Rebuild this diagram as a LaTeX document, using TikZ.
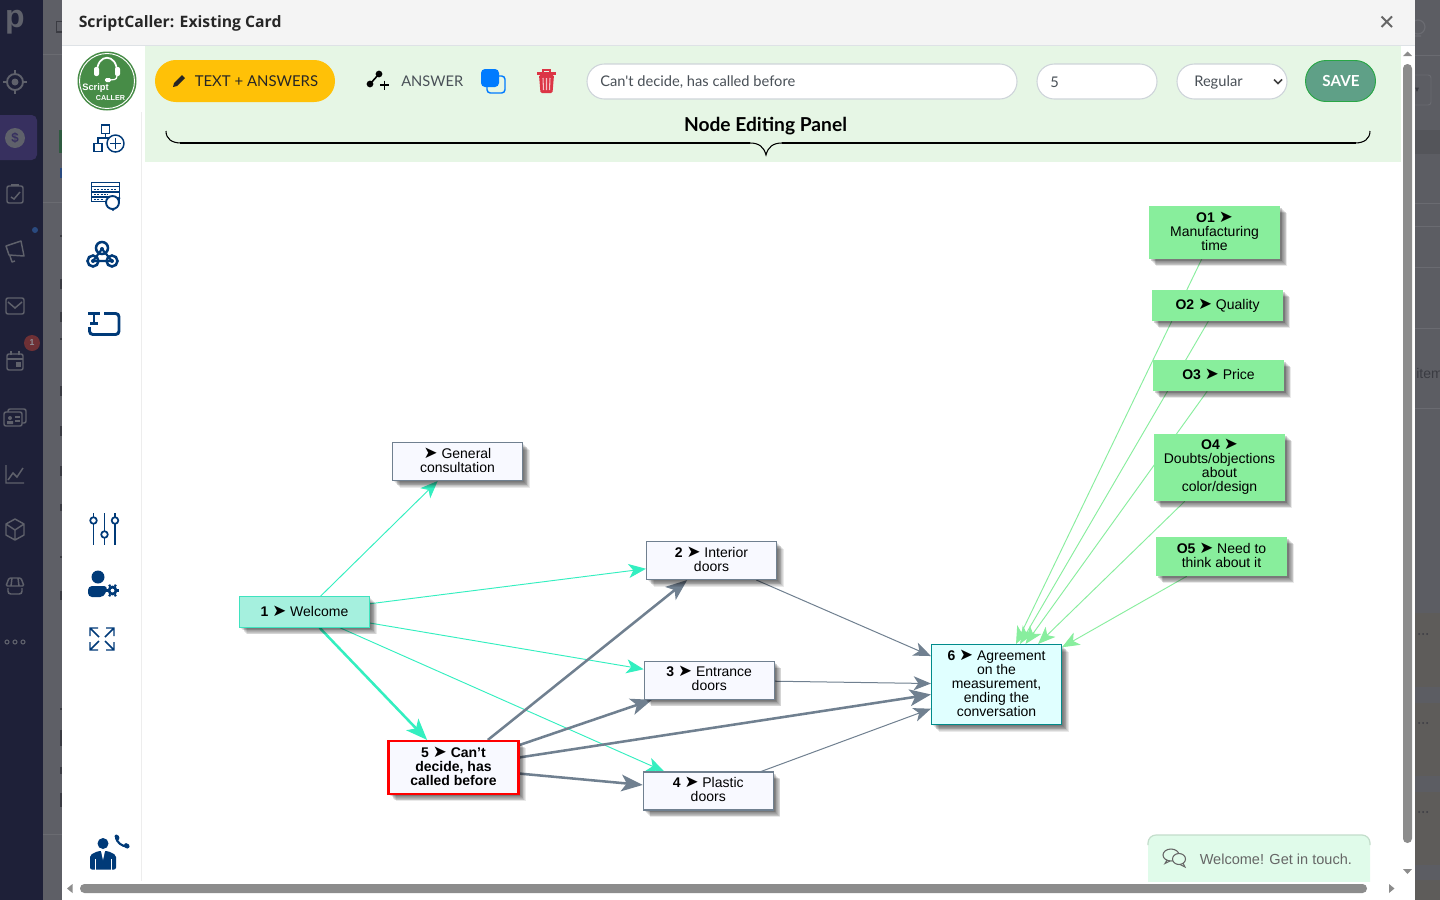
\documentclass[tikz,border=0pt]{standalone}
\usepackage{fontspec}
\setmainfont{Liberation Sans}
\newfontfamily\uif{Lato}
\newfontfamily\titlef{Open Sans}
\newfontfamily\symf{DejaVu Sans}
\usetikzlibrary{arrows.meta}
\pgfdeclarelayer{chrome}
\pgfdeclarelayer{edges}
\pgfsetlayers{chrome,edges,main}
\definecolor{side}{HTML}{1E2038}
\definecolor{selbar}{HTML}{37305F}
\definecolor{dimbg}{HTML}{5E5F66}
\definecolor{dimright}{HTML}{5C5D63}
\definecolor{dimbrown}{HTML}{5E5C5A}
\definecolor{dimband}{HTML}{54555A}
\definecolor{dimline}{HTML}{6A6B71}
\definecolor{dimdark}{HTML}{3A3B42}
\definecolor{dimgreen}{HTML}{2F5A40}
\definecolor{dimblue}{HTML}{2A4A7F}
\definecolor{sideicon}{HTML}{5F616B}
\definecolor{iconblue}{HTML}{003A78}
\definecolor{panelgreen}{HTML}{E6F6E5}
\definecolor{tealedge}{HTML}{33EFC0}
\definecolor{slateedge}{HTML}{708090}
\definecolor{greenedge}{HTML}{88EE9E}
\definecolor{ghost}{HTML}{F8F9FF}
\definecolor{mint}{HTML}{A5F0DE}
\definecolor{mintb}{HTML}{3FE3BF}
\definecolor{cyanf}{HTML}{E0FFFF}
\definecolor{cyanb}{HTML}{008B8B}
\definecolor{ogreen}{HTML}{88EE9C}
\definecolor{uitext}{HTML}{495057}
\definecolor{field}{HTML}{CED4DA}
\definecolor{thumb}{HTML}{8C8C8C}
\definecolor{logogreen}{HTML}{478C47}
\definecolor{amber}{HTML}{FFC107}
\definecolor{savefill}{HTML}{5FA087}
\definecolor{saveline}{HTML}{28A745}
\definecolor{copyblue}{HTML}{007BFF}
\definecolor{trashred}{HTML}{DC3545}
\definecolor{chatfill}{HTML}{E0FBEA}
\definecolor{chatline}{HTML}{C3DDCB}
\definecolor{headbg}{HTML}{F4F4F4}
\definecolor{headline}{HTML}{DEE2E6}
\definecolor{badgered}{HTML}{6E3035}
\def\arr{\smash{\symf\fontsize{12.5}{10.5}\selectfont ➤}}
\def\lst{\rule[-2pt]{0pt}{10pt}}
\tikzset{
  x=0.75pt,y=-0.75pt,
  boxsize/.style 2 args={minimum width=#1*0.75pt,minimum height=#2*0.75pt},
  softstep/.style={preaction={fill=black,fill opacity=0.085,draw=none,transform canvas={shift={(#1pt,-#1pt)}}}},
  softshadow/.style={softstep=5.4,softstep=4.8,softstep=4.2,softstep=3.6,softstep=3.0,softstep=2.4,softstep=1.8,softstep=1.2},
  flow/.style={rectangle,inner sep=0pt,align=center,text=black,
    font=\fontsize{10.5}{10.5}\selectfont,softshadow,
    execute at begin node=\lst,execute at end node=\lst},
  plainbox/.style={flow,fill=ghost,draw=slateedge,line width=0.8pt},
  startbox/.style={flow,fill=mint,draw=mintb,line width=0.8pt},
  currentbox/.style={flow,fill=ghost,draw=red,line width=1.6pt},
  endbox/.style={flow,fill=cyanf,draw=cyanb,line width=0.8pt},
  outbox/.style={flow,fill=ogreen},
  thintip/.style={-{Stealth[length=13pt,width=10.5pt,inset=3.5pt]}},
  thicktip/.style={-{Stealth[length=16pt,width=12.5pt,inset=4pt]}},
  tealthin/.style={draw=tealedge,line width=0.7pt,thintip},
  tealthick/.style={draw=tealedge,line width=1.9pt,thicktip},
  slatethin/.style={draw=slateedge,line width=0.75pt,thintip},
  slatethick/.style={draw=slateedge,line width=1.9pt,thicktip},
  greenthin/.style={draw=greenedge,line width=0.7pt,thintip},
  fieldbox/.style={draw=field,fill=white,line width=0.8pt,rounded corners=13pt},
  uilabel/.style={inner sep=0pt,anchor=west,text=uitext,font=\uif\fontsize{11}{13}\selectfont},
  iconline/.style={draw=iconblue,line width=1.1pt},
  sideline/.style={draw=sideicon,line width=1.1pt},
}
\begin{document}
\begin{tikzpicture}
\useasboundingbox (0,0) rectangle (1440,900);
\begin{pgfonlayer}{chrome}
% page behind the dialog
\fill[side] (0,0) rectangle (43,900);
\fill[dimbg] (43,0) rectangle (62,900);
\fill[dimright] (1415,0) rectangle (1440,900);
\fill[dimband] (1415,130) rectangle (1440,154);
\foreach \a/\b in {613/687,703/776,792/865,880/900} \fill[dimbrown] (1415,\a) rectangle (1440,\b);
\foreach \yy in {55,203,226,267,328,408} \draw[dimline,line width=.5pt] (1415,\yy) -- (1440,\yy);
\draw[dimline,line width=.5pt] (43,54) -- (62,54) (43,202) -- (62,202) (43,834) -- (62,834);
\draw[dimline,line width=.7pt,rounded corners=2pt] (1415,75) -- (1431,75) -- (1431,105) -- (1415,105);
\fill[dimdark] (1415,87.5) -- (1419,87.5) -- (1417,92) -- cycle;
\draw[dimline,line width=.9pt] (1418,27) circle[radius=7] (1415,36) -- (1421,36);
\foreach \yy in {634,723,812} \foreach \xx in {1419,1423,1427} \fill[dimdark] (\xx,\yy) circle[radius=1];
\node (rightclip) [inner sep=0pt,anchor=west,text=dimdark,font=\fontsize{10.5}{12}\selectfont] at (1416,373) {item};
% left edge fragments of the page
\draw[dimdark,line width=1pt] (63,21.5) -- (56.5,21.5) -- (56.5,32) -- (63,32);
\fill[dimgreen] (59,130) rectangle (62,153);
\fill[dimblue] (60,168) rectangle (62,178);
\foreach \yy/\hh in {235/2,279/10,312/10,338/2,386/10,426/10,466/10,504/7,556/2,591/9,708/2,730/16,767/7,793/14} \fill[dimdark] (60,\yy) rectangle (62,\yy+\hh);
% left app bar
\fill[selbar,rounded corners=4pt] (-6,115) rectangle (37,160);
\node (brand) [inner sep=0pt,text=sideicon,font=\bfseries\fontsize{24}{24}\selectfont] at (15,22) {p};
\draw[sideline,line width=1.4pt] (15,82) circle[radius=8];
\fill[sideicon] (15,82) circle[radius=3.5];
\draw[sideline] (15,70) -- (15,74) (15,90) -- (15,94) (3,82) -- (7,82) (23,82) -- (27,82);
\fill[sideicon] (15,138) circle[radius=10];
\node (dollar) [inner sep=0pt,text=selbar,font=\bfseries\fontsize{10}{10}\selectfont] at (15,138) {\$};
\draw[sideline,rounded corners=1.5pt] (7,186) rectangle (23,203);
\draw[sideline] (11,197) -- (14,199) -- (20,192);
\draw[sideline,line width=2pt] (11,185) -- (19,185);
\draw[sideline,line join=round] (6,246) -- (21,241) -- (24,256) -- (9,255) -- cycle (10,256) -- (12,262) -- (15,261);
\draw[sideline,rounded corners=1.5pt] (6,298) rectangle (24,314);
\draw[sideline] (8,302) -- (15,308) -- (22,302);
\draw[sideline,rounded corners=1.5pt] (7,354) rectangle (23,370);
\draw[sideline] (7,359) -- (23,359) (11,351) -- (11,355) (19,351) -- (19,355);
\fill[sideicon] (16,362) rectangle (21,367);
\draw[sideline,rounded corners=1.5pt] (4,412) rectangle (22,426);
\draw[sideline,rounded corners=1.5pt] (8,412) -- (8,409) -- (26,409) -- (26,423) -- (22,423);
\fill[sideicon] (10,418) circle[radius=2] (7,421) rectangle (13,424);
\draw[sideline] (15,417) -- (20,417) (15,421) -- (20,421);
\draw[sideline] (6,465) -- (6,483) -- (24,483) (8,480) -- (13,473) -- (17,477) -- (23,468);
\draw[sideline,line join=round] (15,519) -- (24,524) -- (24,535) -- (15,540) -- (6,535) -- (6,524) -- cycle (6,524) -- (15,530) -- (24,524) (15,530) -- (15,540);
\draw[sideline,rounded corners=2pt] (8,588) -- (8,594) -- (22,594) -- (22,588);
\draw[sideline,rounded corners=1pt] (9,578) -- (21,578) -- (24,586) -- (6,586) -- cycle (12,578) -- (11,586) (18,578) -- (19,586);
\foreach \xx in {7,15,23} \draw[sideline,line width=.8pt] (\xx,642) circle[radius=2];
\fill[dimblue] (35,230) circle[radius=3];
\fill[badgered] (32,343) circle[radius=8];
\node (badge) [inner sep=0pt,text=sideicon!70!white,font=\bfseries\fontsize{6.5}{7}\selectfont] at (32,343) {1};
% dialog
\fill[white] (62,0) rectangle (1415,900);
\fill[headbg] (62,0) rectangle (1415,45);
\draw[headline,line width=.8pt] (62,45.5) -- (1415,45.5);
\node (dialogtitle) [inner sep=0pt,anchor=west,text=black!85,font=\titlef\bfseries\fontsize{11.8}{14}\selectfont] at (78.5,23) {ScriptCaller: Existing Card};
\draw[black!60,line width=1.5pt] (1381.5,16.5) -- (1392,27) (1392,16.5) -- (1381.5,27);
\fill[panelgreen] (145,46) rectangle (1401,162);
\draw[black!7,line width=.6pt] (141,112) -- (141,881);
% logo
\fill[logogreen] (107,81) circle[radius=29.5];
\draw[white,line width=.7pt] (107,81) circle[radius=27.5];
\draw[white,line width=1.3pt] (97,72) .. controls (97,53) and (117,53) .. (117,72);
\fill[white,rounded corners=1.5pt] (94,67) rectangle (99,76) (115,67) rectangle (120,76);
\draw[white,line width=.9pt] (117,76) .. controls (117,80) and (113,80) .. (110,80);
\fill[white,rounded corners=1pt] (105,78) rectangle (111,82);
\node (logoa) [inner sep=0pt,text=white,font=\bfseries\fontsize{7}{7}\selectfont] at (95.5,88.5) {Script};
\node (logob) [inner sep=0pt,text=white,font=\bfseries\fontsize{5.4}{7}\selectfont] at (110.5,98) {CALLER};
% add-node icon
\begin{scope}[iconline]
\draw (101.5,125) rectangle (109.5,133.5);
\draw (94,143.5) rectangle (102,151.5);
\draw (105.5,133.5) -- (105.5,138) (98,143.5) -- (98,138) -- (112,138);
\draw[fill=white] (115.5,143.5) circle[radius=8.5];
\draw (110,143.5) -- (121,143.5) (115.5,138) -- (115.5,149);
% server icon
\draw (91.5,182.5) rectangle (119.5,201.5);
\draw (91.5,186.5) -- (119.5,186.5) (91.5,192) -- (119.5,192) (91.5,197) -- (110,197);
\draw[dash pattern=on 1.5pt off 1pt] (94,189.5) -- (116,189.5) (94,194.5) -- (108,194.5) (94,199.5) -- (104,199.5);
\draw[fill=white,line width=1.4pt] (112.5,202.5) circle[radius=6.5];
\fill[iconblue] (119,198) circle[radius=1.5] (113,209.5) circle[radius=1.5];
\end{scope}
% webhook icon
\begin{scope}[draw=iconblue,line width=1.9pt]
\draw (102,248) circle[radius=6];
\draw (93,261) circle[radius=5.5];
\draw (112,261) circle[radius=5.5];
\draw[line width=1.6pt] (102,249) -- (93,261) (102,249) -- (112,261) (93,261) -- (112,261);
\fill[iconblue] (102,249) circle[radius=2] (93,261) circle[radius=2] (112,261) circle[radius=2];
\end{scope}
% text box icon
\draw[draw=iconblue,line width=2.2pt,rounded corners=2.5pt] (104,313.5) -- (119,313.5) -- (119,334.5) -- (89.5,334.5) -- (89.5,327);
\draw[draw=iconblue,line width=2.2pt] (88,313.5) -- (100,313.5) (94,313.5) -- (94,323) (90,323.5) -- (98,323.5);
% sliders icon
\begin{scope}[iconline,line width=1.3pt]
\draw (93.5,513) -- (93.5,545) (104.5,513) -- (104.5,545) (115,513) -- (115,545);
\draw[fill=white] (93.5,520.5) circle[radius=3.3];
\draw[fill=white] (104.5,534.5) circle[radius=3.3];
\draw[fill=white] (115,520.5) circle[radius=3.3];
\end{scope}
% user settings icon
\fill[iconblue] (98,577) circle[radius=6.5];
\fill[iconblue,rounded corners=3pt] (88,597) -- (88,586) -- (108,586) -- (104,597) -- cycle;
\draw[iconblue,line width=2pt] (112.5,590.5) circle[radius=3.5];
\foreach \ang in {0,60,...,300} \draw[iconblue,line width=1.6pt] (112.5,590.5) ++(\ang:4.5) -- ++(\ang:2.2);
% expand icon
\draw[iconblue,line width=1.1pt] (90,636) -- (90,628) -- (98,628) (90,628) -- (99,637)
  (114,636) -- (114,628) -- (106,628) (114,628) -- (105,637)
  (90,642) -- (90,650) -- (98,650) (90,650) -- (99,641)
  (114,642) -- (114,650) -- (106,650) (114,650) -- (105,641);
% agent icon
\fill[iconblue] (103,843.5) circle[radius=5.5];
\fill[iconblue,rounded corners=1.5pt] (90,869.5) -- (90,855) -- (98,851) -- (108,851) -- (116,855) -- (116,869.5) -- cycle;
\draw[white,line width=.5pt] (95,859) -- (95,869.5) (111,859) -- (111,869.5);
\fill[white] (101,851) -- (105,851) -- (103,860) -- cycle;
\draw[iconblue,line width=1.6pt,line cap=round] (116,838) .. controls (117,842) and (122,847) .. (127,846);
\fill[iconblue,rounded corners=1pt] (114,835) -- (118,834.5) -- (120,839) -- (116.5,841) -- cycle (125,842.5) -- (130,845) -- (128.5,849) -- (123.5,847) -- cycle;
% toolbar
\fill[amber,rounded corners=15.7pt] (155,60) rectangle (335,102);
\fill[black!85] (173,87) -- (174,83) -- (182,75) -- (185,78) -- (177,86) -- cycle;
\node (textanswers) [inner sep=0pt,anchor=west,text=black!85,font=\uif\fontsize{11.2}{13}\selectfont] at (194.5,81.5) {TEXT + ANSWERS};
\fill[black] (370,84) circle[radius=2] (379,74) circle[radius=2];
\draw[black,line width=1.2pt] (370,84) -- (379,74) (370,84) circle[radius=2.5] (379,74) circle[radius=2.5];
\draw[black,line width=1.4pt] (380,85) -- (389,85) (384.5,80.5) -- (384.5,90);
\node (answerlabel) [uilabel] at (401,81.5) {ANSWER};
\draw[copyblue,line width=1.1pt,rounded corners=2.5pt] (487,76) rectangle (505,93);
\fill[copyblue,rounded corners=3pt] (481,69) rectangle (499,87);
\fill[trashred] (537,72) rectangle (556,74.5);
\draw[trashred,line width=1pt] (543,72) -- (543,70) -- (550,70) -- (550,72);
\fill[trashred,rounded corners=1pt] (539,75) -- (554,75) -- (552.5,93) -- (540.5,93) -- cycle;
\draw[white!70!trashred,line width=.8pt] (543,78) -- (543.5,90) (546.5,78) -- (546.5,90) (550,78) -- (549.5,90);
\draw[fieldbox] (587,64) rectangle (1017,99);
\node (titlefield) [uilabel] at (600,82.5) {Can't decide, has called before};
\draw[fieldbox] (1037,64) rectangle (1157,99);
\node (numfield) [uilabel] at (1050,82) {5};
\draw[fieldbox] (1177,64) rectangle (1287,99);
\node (typefield) [uilabel] at (1194,82.5) {Regular};
\draw[black!75,line width=1.2pt] (1274,79.5) -- (1278,83.5) -- (1282,79.5);
\draw[saveline,fill=savefill,line width=.7pt,rounded corners=15.3pt] (1305.5,60.5) rectangle (1375.5,101.5);
\node (savelabel) [inner sep=0pt,text=white,font=\uif\bfseries\fontsize{11.4}{13}\selectfont] at (1341,81.5) {SAVE};
\node (paneltitle) [inner sep=0pt,text=black,font=\uif\bfseries\fontsize{14.4}{16}\selectfont] at (765.5,126) {Node Editing Panel};
\draw[black,line width=1.4pt] (180,143) -- (750,143) (782,143) -- (1356,143);
\draw[black,line width=.8pt] (166,131) .. controls (166,139) and (172,143) .. (181,143) (750,143) .. controls (759,143) and (764,147) .. (766,155) .. controls (768,147) and (773,143) .. (782,143) (1355,143) .. controls (1364,143) and (1370,139) .. (1370,131);
% chat badge
\fill[chatfill,rounded corners=6pt] (1148,835) rectangle (1370,892);
\draw[chatline,line width=.9pt,rounded corners=6pt] (1148,845) -- (1148,835) -- (1370,835) -- (1370,845);
\draw[black!60,line width=.8pt] (1171,855) ellipse[x radius=8,y radius=6];
\draw[black!60,line width=.8pt] (1167,860) -- (1165,863.5) -- (1170,861);
\draw[black!60,line width=.8pt,fill=chatfill] (1179,859) ellipse[x radius=6.5,y radius=5.5];
\draw[black!60,line width=.8pt] (1183,863) -- (1185,867) -- (1180,864.5);
\node (chatlabel) [inner sep=0pt,anchor=west,text=black!60,font=\fontsize{10.9}{13}\selectfont] at (1199.5,859) {Welcome! Get in touch.};
% scrollbars
\fill[white] (62,881.5) rectangle (1401,900);
\fill[thumb,rounded corners=3.3pt] (1403,64) rectangle (1412,843);
\fill[thumb] (1403,56) -- (1412,56) -- (1407.5,51.5) -- cycle (1403,869) -- (1412,869) -- (1407.5,874) -- cycle;
\fill[thumb,rounded corners=3.3pt] (80,884) rectangle (1367,893);
\fill[thumb] (72.5,884) -- (72.5,893) -- (67,888.5) -- cycle (1389,884) -- (1389,893) -- (1394.5,888.5) -- cycle;
\end{pgfonlayer}
% diagram nodes
\node (gen) [plainbox,boxsize={130}{38}] at (457.5,461.5) {\arr{} General\\consultation};
\node (n1) [startbox,boxsize={130}{30.5}] at (304.5,612) {\textbf{1} \arr{} Welcome};
\node (n2) [plainbox,boxsize={130}{38}] at (711.5,560.5) {\textbf{2} \arr{} Interior\\doors};
\node (n3) [plainbox,boxsize={130}{38}] at (709.25,680.25) {\textbf{3} \arr{} Entrance\\doors};
\node (n4) [plainbox,boxsize={130}{38}] at (708.25,791) {\textbf{4} \arr{} Plastic\\doors};
\node (n5) [currentbox,boxsize={130}{53}] at (453.5,767.5) {\textbf{5 \arr{} Can't}\\\textbf{decide, has}\\\textbf{called before}};
\node (n6) [endbox,boxsize={130}{80}] at (996.5,684.5) {\textbf{6} \arr{} Agreement\\on the\\measurement,\\ending the\\conversation};
\node (o1) [outbox,boxsize={131}{53}] at (1214.5,232.5) {\textbf{O1} \arr{}\\Manufacturing\\time};
\node (o2) [outbox,boxsize={131}{31}] at (1217.5,305.5) {\textbf{O2} \arr{} Quality};
\node (o3) [outbox,boxsize={131}{31}] at (1218.5,375.5) {\textbf{O3} \arr{} Price};
\node (o4) [outbox,boxsize={131}{67}] at (1219.5,467.5) {\textbf{O4} \arr{}\\Doubts/objections\\about\\color/design};
\node (o5) [outbox,boxsize={131}{39}] at (1221.5,556.5) {\textbf{O5} \arr{} Need to\\think about it};
% connectors
\begin{pgfonlayer}{edges}
\draw[tealthin] (n1) -- (gen);
\draw[tealthin] (n1) -- (n2);
\draw[tealthin] (n1) -- (n3);
\draw[tealthin] (n1) -- (n4);
\draw[tealthick] (n1) -- (n5);
\draw[slatethick] (n5) -- (n2);
\draw[slatethick] (n5) -- (n3);
\draw[slatethick] (n5) -- (n4);
\draw[slatethick] (n5) -- (n6);
\draw[slatethin] (n2) -- (n6);
\draw[slatethin] (n3) -- (n6);
\draw[slatethin] (n4) -- (n6);
\draw[greenthin] (o1) -- (n6);
\draw[greenthin] (o2) -- (n6);
\draw[greenthin] (o3) -- (n6);
\draw[greenthin] (o4) -- (n6);
\draw[greenthin] (o5) -- (n6);
\end{pgfonlayer}
\end{tikzpicture}
\end{document}
